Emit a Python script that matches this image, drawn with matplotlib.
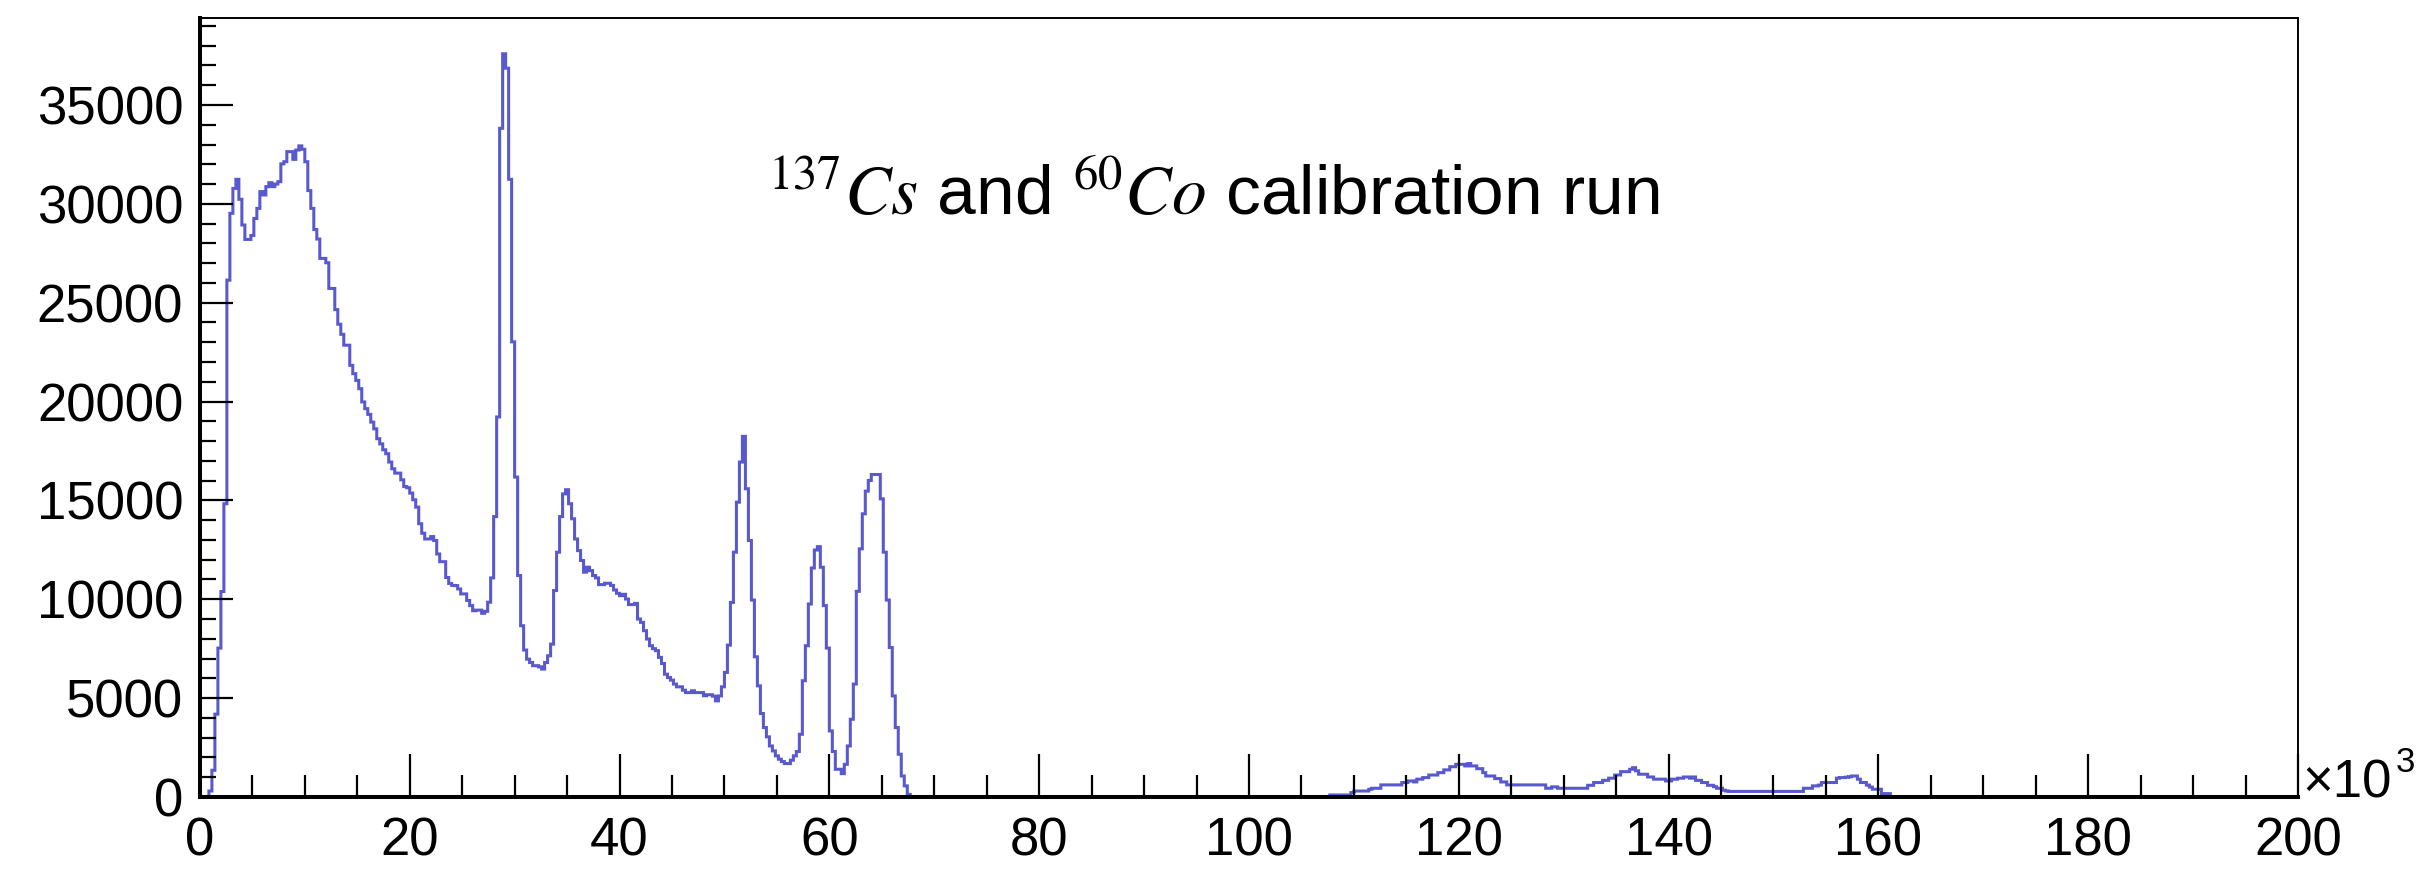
import numpy as np
import matplotlib
matplotlib.use('Agg')
import matplotlib.pyplot as plt
from matplotlib.ticker import MultipleLocator

plt.rcParams['font.family'] = 'Liberation Sans'
plt.rcParams['mathtext.fontset'] = 'stix'

# Histogram: 700 bins from 0 to 200 (x10^3)
n_bins = 700
x_max = 200

# counts for bins 0..237 (Cs / Co region)
counts_low = [
    0, 0, 0, 300, 1350, 4190, 7530, 10390, 14830, 26140,
    29520, 30780, 31240, 30230, 28930, 28200, 28200, 28400, 29260, 29770,
    30620, 30450, 30870, 31070, 30870, 31000, 31120, 32020, 32130, 32640,
    32640, 32250, 32720, 32930, 32760, 32130, 30670, 29770, 28700, 28220,
    27240, 27240, 27020, 25720, 25720, 24650, 23910, 23400, 22850, 22850,
    21830, 21410, 21070, 20650, 19980, 19640, 19350, 18960, 18620, 18120,
    17860, 17560, 17360, 16940, 16600, 16380, 16380, 16040, 15700, 15640,
    15370, 15030, 14660, 13820, 13340, 13050, 13050, 13170, 12970, 12290,
    11900, 11900, 11100, 10800, 10700, 10690, 10520, 10270, 10270, 9940,
    9680, 9420, 9450, 9450, 9290, 9390, 9850, 11080, 14180, 19220,
    33820, 37590, 36860, 31240, 23020, 16180, 11200, 8660, 7430, 6970,
    6800, 6640, 6640, 6580, 6470, 6800, 7140, 7730, 10440, 12380,
    14180, 15330, 15540, 14830, 14070, 13050, 12460, 11960, 11370, 11620,
    11450, 11200, 11080, 10740, 10740, 10810, 10810, 10700, 10470, 10300,
    10180, 10250, 10010, 9730, 9730, 9790, 9000, 8830, 8410, 7990,
    7650, 7500, 7400, 7060, 6750, 6210, 6040, 5910, 5710, 5570,
    5570, 5400, 5280, 5280, 5370, 5280, 5280, 5280, 5120, 5170,
    5170, 5100, 4860, 5110, 5570, 6300, 7680, 9840, 12380, 14910,
    16940, 18240, 15590, 12970, 9960, 7090, 5620, 4220, 3510, 3040,
    2580, 2330, 2080, 1910, 1790, 1690, 1690, 1860, 2080, 2300,
    3170, 5880, 7650, 9760, 11580, 12490, 12660, 11620, 9680, 7530,
    3340, 2300, 1400, 1400, 1180, 1650, 2580, 3930, 5710, 10400,
    12550, 14320, 15470, 16010, 16310, 16310, 16310, 15080, 12380, 9960,
    7560, 5110, 3510, 2160, 1060, 560, 130, 0,
]

# counts for bins 376..563 (high energy region)
high_first_bin = 376
counts_high = [
    0, 100, 100, 100, 100, 100, 100, 100, 220, 300,
    300, 300, 300, 300, 390, 440, 440, 440, 610, 610,
    610, 610, 610, 610, 610, 730, 730, 810, 810, 760,
    900, 900, 980, 980, 1110, 1110, 1110, 1230, 1230, 1370,
    1370, 1530, 1530, 1650, 1650, 1650, 1570, 1690, 1570, 1570,
    1430, 1430, 1230, 1060, 1060, 1060, 930, 930, 760, 760,
    610, 610, 610, 610, 610, 610, 610, 610, 610, 610,
    610, 610, 610, 440, 440, 510, 510, 440, 440, 440,
    440, 440, 440, 440, 440, 440, 440, 590, 590, 730,
    730, 730, 840, 840, 950, 950, 1110, 1110, 1280, 1280,
    1280, 1400, 1480, 1320, 1150, 1150, 1150, 1010, 1010, 900,
    900, 900, 900, 810, 810, 900, 900, 950, 950, 1010,
    1010, 950, 1010, 840, 840, 730, 730, 590, 590, 520,
    440, 440, 340, 300, 280, 280, 280, 280, 280, 280,
    280, 280, 280, 280, 280, 280, 280, 280, 280, 280,
    280, 280, 280, 280, 280, 280, 280, 280, 280, 440,
    440, 440, 560, 560, 600, 730, 730, 730, 730, 730,
    950, 980, 980, 1000, 1020, 1060, 1060, 900, 730, 730,
    600, 500, 390, 390, 390, 170, 170, 170,
]

edges = np.linspace(0, x_max, n_bins + 1)
counts = np.zeros(n_bins)
counts[:len(counts_low)] = counts_low
counts[high_first_bin:high_first_bin + len(counts_high)] = counts_high

x_ticks = list(range(0, 201, 20))
y_ticks = list(range(0, 35001, 5000))

fig = plt.figure(figsize=(24.32, 8.69), dpi=100)
ax = fig.add_axes([0.0822, 0.0829, 0.8627, 0.8964])

ax.stairs(counts, edges, color='#3030c4', alpha=0.8, linewidth=2.2)

ax.set_xlim(0, x_max)
ax.set_ylim(0, 39400)
ax.set_xticks(x_ticks)
ax.set_yticks(y_ticks)
ax.xaxis.set_minor_locator(MultipleLocator(5))
ax.yaxis.set_minor_locator(MultipleLocator(1000))

ax.tick_params(axis='both', which='both', direction='in', width=1.6,
               top=False, right=False, labelsize=38)
ax.tick_params(axis='x', which='major', length=31, pad=14)
ax.tick_params(axis='x', which='minor', length=16)
ax.tick_params(axis='y', which='major', length=24, pad=12)
ax.tick_params(axis='y', which='minor', length=11.5)

for side in ['bottom', 'left']:
    ax.spines[side].set_linewidth(2.9)
for side in ['top', 'right']:
    ax.spines[side].set_linewidth(1.4)

# x10^3 multiplier at the end of the x axis
fig.text(2302 / 2432, 72 / 869, '\u00d710', fontsize=38, va='baseline', ha='left')
fig.text(2396 / 2432, 97 / 869, '3', fontsize=25, va='baseline', ha='left')

# annotation
fig.text(767 / 2432, 1 - 215 / 869,
         r'${}^{137}Cs$ and ${}^{60}Co$ calibration run',
         fontsize=50, va='baseline', ha='left')

fig.savefig('out.png', dpi=100)
